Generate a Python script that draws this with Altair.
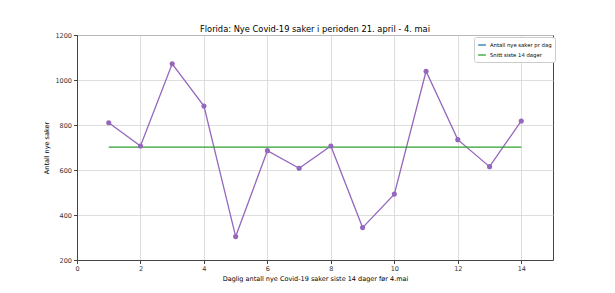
import altair as alt
import pandas as pd

# Data
days = list(range(1, 15))
cases = [810, 707, 1072, 884, 304, 686, 608, 707, 344, 493, 1039, 735, 615, 818]
avg_value = 702
avg_start, avg_end = 1, 14

series_names = ["Antall nye saker pr dag", "Snitt siste 14 dager"]
legend_colors = ["#1f77b4", "#2ca02c"]
x_ticks = [0, 2, 4, 6, 8, 10, 12, 14]
y_ticks = [200, 400, 600, 800, 1000, 1200]

title = "Florida: Nye Covid-19 saker i perioden 21. april - 4. mai"
x_title = "Daglig antall nye Covid-19 saker siste 14 dager før 4.mai"
y_title = "Antall nye saker"

FONT = "DejaVu Sans"

df = pd.DataFrame({"dag": days, "saker": cases})
avg_df = pd.DataFrame({"start": [avg_start], "slutt": [avg_end], "snitt": [avg_value]})
legend_df = pd.DataFrame({"serie": series_names, "dag": [None, None], "saker": [None, None]})

x_scale = alt.Scale(domain=[0, 15], nice=False, zero=False)
y_scale = alt.Scale(domain=[200, 1200], nice=False, zero=False)

x_axis = alt.Axis(values=x_ticks, title=x_title, format="d", labelFlush=False)
y_axis = alt.Axis(values=y_ticks, title=y_title, format="d")

line = alt.Chart(df).mark_line(color="#9467bd", strokeWidth=1.3).encode(
    x=alt.X("dag:Q", scale=x_scale, axis=x_axis),
    y=alt.Y("saker:Q", scale=y_scale, axis=y_axis),
)
pts = alt.Chart(df).mark_circle(color="#9467bd", size=26, opacity=1).encode(
    x=alt.X("dag:Q", scale=x_scale),
    y=alt.Y("saker:Q", scale=y_scale),
)
avg = alt.Chart(avg_df).mark_rule(color="#2ca02c", strokeWidth=1.3).encode(
    x=alt.X("start:Q", scale=x_scale),
    x2="slutt:Q",
    y=alt.Y("snitt:Q", scale=y_scale),
)
legend_layer = alt.Chart(legend_df).mark_line(strokeWidth=1.3).encode(
    x=alt.X("dag:Q", scale=x_scale),
    y=alt.Y("saker:Q", scale=y_scale),
    color=alt.Color(
        "serie:N",
        scale=alt.Scale(domain=series_names, range=legend_colors),
        legend=alt.Legend(
            title=None,
            orient="none",
            legendX=397,
            legendY=2,
            symbolType="stroke",
            symbolSize=60,
            symbolStrokeWidth=1.3,
            labelFontSize=5.3,
            labelFont=FONT,
            labelColor="#000",
            labelOffset=3,
            rowPadding=1,
            padding=3,
            fillColor="white",
            strokeColor="#cccccc",
            cornerRadius=2,
        ),
    ),
)

chart = (
    alt.layer(line, avg, pts, legend_layer)
    .properties(
        width=476,
        height=225,
        title=alt.TitleParams(text=title, fontSize=8.3, font=FONT, fontWeight="normal",
                              color="#000", anchor="middle", frame="group", offset=-1.5),
        autosize=alt.AutoSizeParams(type="none"),
        padding={"left": 77, "top": 35, "right": 62, "bottom": 33},
        background="white",
    )
    .configure_view(stroke="#444", strokeWidth=1)
    .configure_axis(
        grid=True,
        gridColor="#d6d6d6",
        gridWidth=0.8,
        domainColor="#444",
        domainWidth=1,
        tickColor="#444",
        tickSize=3.5,
        labelFont=FONT,
        labelFontSize=6.5,
        labelColor="#333",
        titleFont=FONT,
        titleFontSize=6.5,
        titleFontWeight="normal",
        titleColor="#000",
        labelPadding=2,
    )
    .configure_axisX(titlePadding=3)
    .configure_axisY(titlePadding=5)
)

chart.save("out.html", embed_options={"renderer": "svg", "actions": False})
